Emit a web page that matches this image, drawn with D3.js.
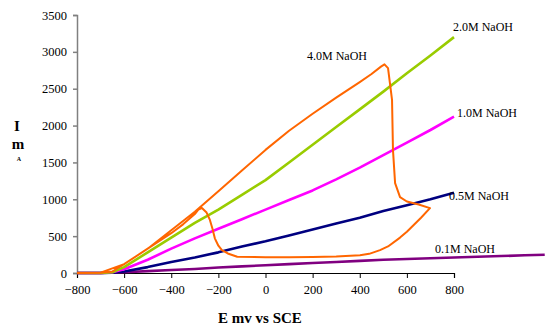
<!DOCTYPE html>
<html>
<head>
<meta charset="utf-8">
<script src="https://cdn.jsdelivr.net/npm/d3@7"></script>
<style>
  body { margin: 0; background: #fff; }
  svg { display: block; font-family: "Liberation Serif", "Times New Roman", serif; }
</style>
</head>
<body>
<svg id="chart"></svg>
<script>
// potential steps (mV vs SCE) shared by the straight-ish curves
var eSteps = [-800, -700, -650, -600, -500, -400, -300, -200, -100, 0, 100, 200, 300, 400, 500, 600, 700, 800];
var naoh05 = [0, 0, 5, 20, 80, 150, 210, 280, 360, 430, 510, 590, 670, 750, 840, 920, 1000, 1090];
var naoh10 = [0, 0, 10, 50, 180, 330, 470, 600, 730, 860, 990, 1120, 1270, 1430, 1600, 1770, 1940, 2120];
var naoh20 = [0, 0, 10, 80, 280, 480, 680, 860, 1060, 1260, 1500, 1740, 1980, 2220, 2460, 2710, 2950, 3200];

// 0.1M runs past the end of the axis
var naoh01E = [-800, -700, -600, -500, -400, -300, -200, -100, 0, 100, 200, 300, 400, 500, 600, 700, 800, 900, 1000, 1100, 1185];
var naoh01 = [0, 0, 10, 25, 40, 55, 75, 90, 105, 120, 135, 150, 165, 180, 190, 200, 210, 220, 230, 240, 248];

// 4.0M forward scan then the reverse loop
var naoh40E = [-800, -700, -650, -600, -500, -400, -300, -200, -100, 0, 100, 200, 300, 400, 450, 490, 505, 520, 537, 541, 550, 571, 600, 650, 698,
               660, 600, 571, 520, 486, 440, 401, 300, 200, 100, 0, -120, -160, -185, -200, -215, -225, -236, -250, -270, -285, -300, -350, -400, -500, -600, -700, -800];
var naoh40I = [0, 5, 20, 120, 330, 580, 830, 1110, 1390, 1670, 1930, 2160, 2380, 2590, 2700, 2800, 2830, 2780, 2350, 1670, 1220, 1030, 970, 930, 880,
               750, 560, 480, 360, 310, 260, 240, 225, 218, 215, 215, 220, 265, 310, 370, 470, 600, 720, 820, 882, 860, 800, 660, 540, 330, 120, 5, 0];

var yTicks = [0, 500, 1000, 1500, 2000, 2500, 3000, 3500];
var xTicks = [-800, -600, -400, -200, 0, 200, 400, 600, 800];

var width = 545, height = 326;
var svg = d3.select("#chart").attr("width", width).attr("height", height);

var x = d3.scaleLinear().domain([-800, 800]).range([77, 454]);
var y = d3.scaleLinear().domain([0, 3500]).range([273, 15]);

// axes
var yAxis = svg.append("g")
    .attr("transform", "translate(77,0)")
    .attr("font-family", null)
    .call(d3.axisLeft(y).tickValues(yTicks).tickSize(4).tickPadding(6).tickFormat(d3.format("d")));
yAxis.select(".domain").attr("stroke", "#808080").attr("stroke-width", 1.5);
yAxis.selectAll(".tick line").attr("stroke", "#808080").attr("stroke-width", 1.5);

var xAxis = svg.append("g")
    .attr("transform", "translate(0,273)")
    .call(d3.axisBottom(x).tickValues(xTicks).tickSize(5).tickPadding(7).tickFormat(d3.format("d")));
xAxis.select(".domain").attr("stroke", "#000").attr("stroke-width", 1.2);
xAxis.selectAll(".tick line").attr("stroke", "#000");

svg.selectAll("g").attr("font-family", "Liberation Serif");
svg.selectAll(".tick text")
    .attr("font-family", "Liberation Serif")
    .attr("font-size", 12.5)
    .attr("fill", "#000");

var line = d3.line()
    .x(function(d) { return x(d[0]); })
    .y(function(d) { return y(d[1]); });

var series = [
  { name: "0.1M", e: naoh01E, v: naoh01, color: "#800080" },
  { name: "0.5M", e: eSteps, v: naoh05, color: "#000080" },
  { name: "1.0M", e: eSteps, v: naoh10, color: "#ff00ff" },
  { name: "2.0M", e: eSteps, v: naoh20, color: "#99cc00" },
  { name: "4.0M", e: naoh40E, v: naoh40I, color: "#ff6600" }
];

series.forEach(function(s) {
  var pts = s.e.map(function(e, i) { return [e, s.v[i]]; });
  svg.append("path")
      .datum(pts)
      .attr("d", line)
      .attr("fill", "none")
      .attr("stroke", s.color)
      .attr("stroke-width", s.name == "4.0M" ? 2 : 2.6)
      .attr("stroke-linejoin", "round");
});

// curve labels
var labels = [
  { t: "2.0M NaOH", x: 453, y: 31 },
  { t: "4.0M NaOH", x: 307, y: 60 },
  { t: "1.0M NaOH", x: 457, y: 117 },
  { t: "0.5M NaOH", x: 449, y: 200 },
  { t: "0.1M NaOH", x: 435, y: 253 }
];
svg.selectAll(".lbl")
    .data(labels)
    .enter()
    .append("text")
    .attr("class", "lbl")
    .attr("x", function(d) { return d.x; })
    .attr("y", function(d) { return d.y; })
    .attr("font-size", 12)
    .attr("fill", "#000")
    .text(function(d) { return d.t; });

// axis titles
svg.append("text")
    .attr("x", 260).attr("y", 323)
    .attr("text-anchor", "middle")
    .attr("font-size", 15).attr("font-weight", "bold")
    .text("E mv vs SCE");

svg.append("text").attr("x", 17).attr("y", 131).attr("text-anchor", "middle")
    .attr("font-size", 15).attr("font-weight", "bold").text("I");
svg.append("text").attr("x", 18).attr("y", 149).attr("text-anchor", "middle")
    .attr("font-size", 15).attr("font-weight", "bold").text("m");
svg.append("text").attr("x", 19).attr("y", 161).attr("text-anchor", "middle")
    .attr("font-size", 6).attr("font-weight", "bold").text("A");
</script>
</body>
</html>
